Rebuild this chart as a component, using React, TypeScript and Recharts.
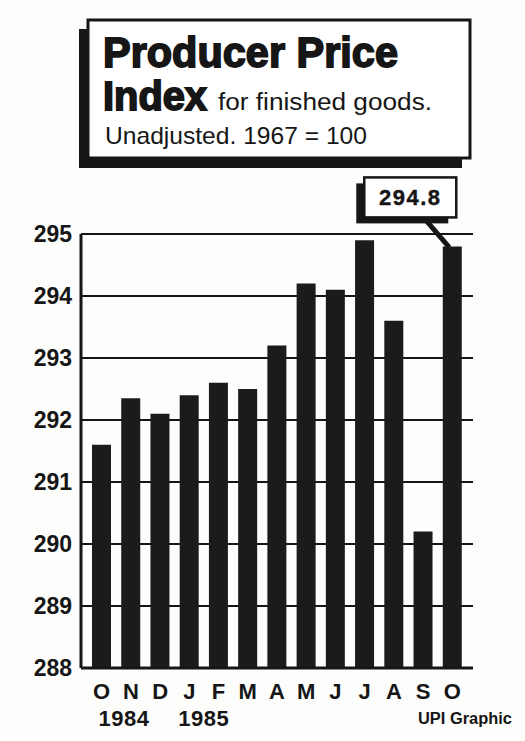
import { BarChart, Bar, XAxis, YAxis, CartesianGrid, LabelList } from 'recharts';

// Producer Price Index, finished goods, unadjusted (1967 = 100)
const months = ['O', 'N', 'D', 'J', 'F', 'M', 'A', 'M', 'J', 'J', 'A', 'S', 'O'];
const values = [291.6, 292.35, 292.1, 292.4, 292.6, 292.5, 293.2, 294.2, 294.1, 294.9, 293.6, 290.2, 294.8];
const years = ['1984', '', '', '1985', '', '', '', '', '', '', '', '', ''];
const callouts = ['', '', '', '', '', '', '', '', '', '', '', '', '294.8'];
const yTicks = [288, 289, 290, 291, 292, 293, 294, 295];

const data = months.map((m, i) => ({
  id: i,
  month: m,
  value: values[i],
  year: years[i],
  callout: callouts[i],
}));

const FONT = '"Liberation Sans", Arial, Helvetica, sans-serif';
const INK = '#161616';

const MonthTick = (props: any) => {
  const { x, y, payload } = props;
  const row = data[payload.value];
  if (!row) return null;
  // year sits under the first month of each year, nudged to line up like the print
  const yearDx = row.year === '1984' ? -3 : -11;
  return (
    <g>
      <text x={x} y={y + 31} textAnchor="middle" fontFamily={FONT} fontWeight={700} fontSize={22} fill={INK}>
        {row.month}
      </text>
      {row.year && (
        <text x={x + yearDx} y={y + 58} textAnchor="start" fontFamily={FONT} fontWeight={700} fontSize={22} letterSpacing={0.5} fill={INK}>
          {row.year}
        </text>
      )}
    </g>
  );
};

const Callout = (props: any) => {
  const vb = props.viewBox ?? props;
  const x = props.x ?? vb.x;
  const y = props.y ?? vb.y;
  const width = props.width ?? vb.width;
  if (!props.value) return null;
  const cx = x + width / 2;
  return (
    <g>
      <line x1={cx - 28} y1={y - 28} x2={cx - 3} y2={y + 1} stroke={INK} strokeWidth={5} />
      <rect x={cx - 96} y={y - 63} width={92} height={40} fill={INK} />
      <rect x={cx - 88} y={y - 69} width={92} height={40} fill="#fff" stroke={INK} strokeWidth={2.5} />
      <text x={cx - 42} y={y - 41} textAnchor="middle" fontFamily={FONT} fontWeight={700} fontSize={22} letterSpacing={1.5} fill={INK} stroke={INK} strokeWidth={0.4}>
        {props.value}
      </text>
    </g>
  );
};

export default function App() {
  return (
    <div
      style={{
        position: 'absolute',
        top: 0,
        left: 0,
        width: 525,
        height: 741,
        background: '#fdfdfc',
        overflow: 'hidden',
      }}
    >
      <BarChart
        width={525}
        height={741}
        data={data}
        margin={{ top: 234, right: 52, bottom: 43, left: 0 }}
        barSize={19}
      >
        <CartesianGrid horizontal vertical={false} stroke={INK} strokeWidth={2} />
        <XAxis
          dataKey="id"
          height={30}
          padding={{ left: 6, right: 6 }}
          axisLine={{ stroke: INK, strokeWidth: 3 }}
          tickLine={false}
          tickSize={0}
          tickMargin={0}
          interval={0}
          tick={<MonthTick />}
        />
        <XAxis xAxisId="top" dataKey="id" orientation="top" height={0} axisLine={{ stroke: INK, strokeWidth: 3 }} tick={false} tickLine={false} />
        <YAxis
          domain={[288, 295]}
          ticks={yTicks}
          width={81}
          axisLine={{ stroke: INK, strokeWidth: 3 }}
          tickLine={false}
          tickSize={0}
          tickMargin={9}
          tick={{ fill: INK, fontSize: 23, fontWeight: 700, fontFamily: FONT }}
        />
        <YAxis yAxisId="right" orientation="right" domain={[288, 295]} width={0} axisLine={{ stroke: INK, strokeWidth: 3 }} tick={false} tickLine={false} />
        <Bar dataKey="value" fill="#1b1b1b" isAnimationActive={false}>
          <LabelList dataKey="callout" content={<Callout />} />
        </Bar>
      </BarChart>

      <svg width={525} height={741} style={{ position: 'absolute', top: 0, left: 0, pointerEvents: 'none' }}>
        <rect x={79} y={29} width={383} height={139} fill={INK} />
        <rect x={88} y={20} width={382} height={138} fill="#fff" stroke={INK} strokeWidth={3} />
        <text x={103} y={67} fontFamily={FONT} fontWeight={700} fontSize={43} textLength={295} lengthAdjust="spacingAndGlyphs" fill={INK} stroke={INK} strokeWidth={1.8}>
          Producer Price
        </text>
        <text x={103} y={110} fontFamily={FONT} fontWeight={700} fontSize={40} textLength={104} lengthAdjust="spacingAndGlyphs" fill={INK} stroke={INK} strokeWidth={1.8}>
          Index
        </text>
        <text x={218} y={110} fontFamily={FONT} fontSize={23} textLength={214} lengthAdjust="spacingAndGlyphs" fill={INK}>
          for finished goods.
        </text>
        <text x={105} y={144} fontFamily={FONT} fontSize={24} textLength={262} lengthAdjust="spacingAndGlyphs" fill={INK}>
          Unadjusted. 1967 = 100
        </text>
        <text x={418} y={724} fontFamily={FONT} fontWeight={700} fontSize={16} textLength={94} lengthAdjust="spacingAndGlyphs" fill={INK}>
          UPI Graphic
        </text>
      </svg>
    </div>
  );
}
